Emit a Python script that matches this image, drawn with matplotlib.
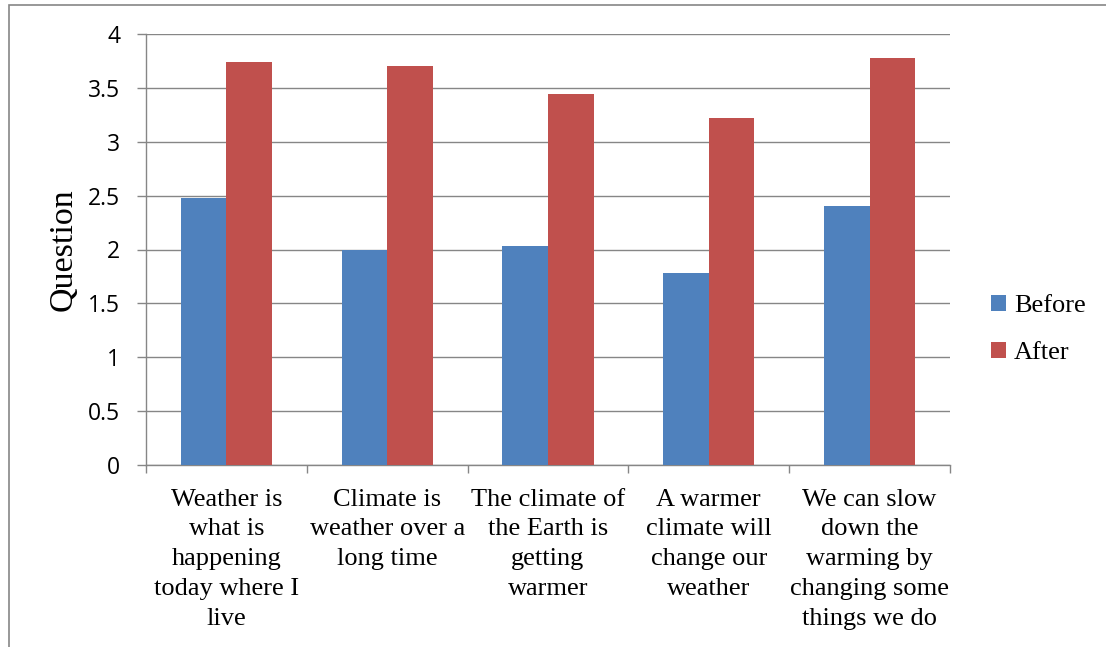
import numpy as np
import matplotlib.pyplot as plt
from matplotlib.patches import Rectangle

# data
categories = ["Weather is\nwhat is\nhappening\ntoday where I\nlive",
              "Climate is\nweather over a\nlong time",
              "The climate of\nthe Earth is\ngetting\nwarmer",
              "A warmer\nclimate will\nchange our\nweather",
              "We can slow\ndown the\nwarming by\nchanging some\nthings we do"]
before = [2.48, 2.00, 2.03, 1.78, 2.40]
after = [3.74, 3.70, 3.44, 3.22, 3.78]
yticks = [0, 0.5, 1, 1.5, 2, 2.5, 3, 3.5, 4]

blue = "#4F81BD"
red = "#C0504D"
grey = "#868686"

fig = plt.figure(figsize=(11.06, 6.47), dpi=100)
ax = fig.add_axes([146/1106, 1 - 465/647, (950 - 146)/1106, (465 - 34)/647])

x = np.arange(len(categories))
w = 0.283
ax.bar(x - w/2, before, w, color=blue, label="Before", zorder=3)
ax.bar(x + w/2, after, w, color=red, label="After", zorder=3)

ax.set_xlim(-0.5, len(categories) - 0.5)
ax.set_ylim(0, 4)
ax.set_yticks(yticks)
ax.set_yticklabels([f"{v:g}" for v in yticks], family="Open Sans", fontsize=16.5)
ax.yaxis.grid(True, color=grey, lw=1, zorder=0)
ax.tick_params(axis="y", length=6.5, color=grey, width=1, pad=12)

ax.set_xticks(x)
ax.set_xticklabels(categories, family="Liberation Serif", fontsize=19, linespacing=1.46)
ax.set_xticks(np.arange(-0.5, len(categories)), minor=True)
ax.tick_params(axis="x", which="major", length=0, pad=17)
ax.tick_params(axis="x", which="minor", length=6, color=grey, width=1)

for s in ["top", "right"]:
    ax.spines[s].set_visible(False)
for s in ["left", "bottom"]:
    ax.spines[s].set_color(grey)
    ax.spines[s].set_linewidth(1)

ax.set_ylabel("Question", family="Liberation Serif", fontsize=24.5, labelpad=7)

ax.legend(loc="center left", bbox_to_anchor=(1.022, 0.314), frameon=False,
          prop={"family": "Liberation Serif", "size": 19},
          handlelength=0.55, handleheight=0.55, handletextpad=0.3, labelspacing=0.95)

# outer chart border
fig.patches.append(Rectangle((9/1106, -0.1), 1.2, 1.1 - 5/647, transform=fig.transFigure,
                             fill=False, edgecolor=grey, lw=1.2))

fig.savefig("out.png", dpi=100)
